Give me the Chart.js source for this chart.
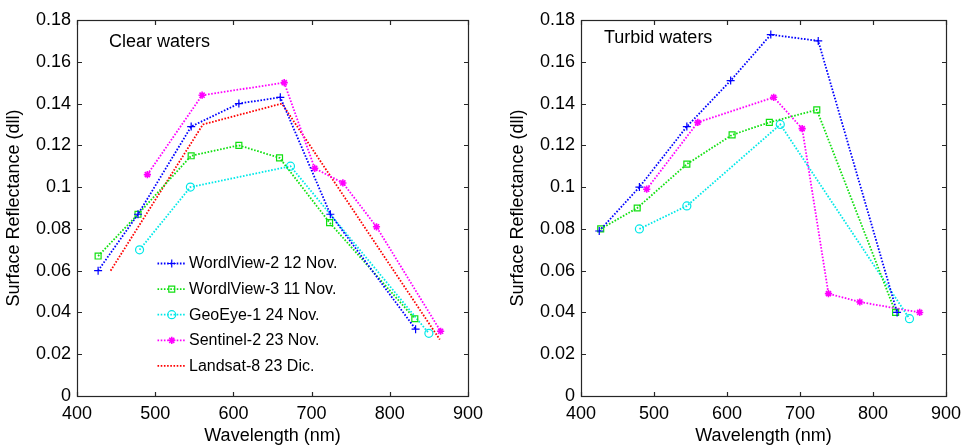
<!DOCTYPE html>
<html>
<head>
<meta charset="utf-8">
<script src="https://cdn.jsdelivr.net/npm/chart.js@4.4.1/dist/chart.umd.min.js"></script>
<style>
  html, body { margin: 0; padding: 0; background: #fff; overflow: hidden; }
  body { width: 968px; height: 445px; position: relative; }
  canvas { position: absolute; top: 0; }
  #cLeft { left: 0; }
  #cRight { left: 509px; }
</style>
</head>
<body>
<canvas id="cLeft" width="490" height="445"></canvas>
<canvas id="cRight" width="459" height="445"></canvas>
<script>
// ---------- tick labels ----------
const xTicks = [400, 500, 600, 700, 800, 900];
const xTickLabels = ['400', '500', '600', '700', '800', '900'];
const yTicks = [0, 0.02, 0.04, 0.06, 0.08, 0.1, 0.12, 0.14, 0.16, 0.18];
const yTickLabels = ['0', '0.02', '0.04', '0.06', '0.08', '0.1', '0.12', '0.14', '0.16', '0.18'];

// ---------- series names ----------
const seriesNames = ['WordlView-2 12 Nov.', 'WordlView-3 11 Nov.', 'GeoEye-1 24 Nov.', 'Sentinel-2 23 Nov.', 'Landsat-8 23 Dic.'];

// ---------- Clear waters ----------
const clearWV2Wl = [427, 478, 546, 607, 660, 724, 833];
const clearWV2R  = [0.060, 0.087, 0.129, 0.140, 0.143, 0.087, 0.032];
const clearWV3Wl = [427, 478, 546, 607, 659, 723, 832];
const clearWV3R  = [0.067, 0.087, 0.115, 0.120, 0.114, 0.083, 0.037];
const clearGEWl  = [480, 545, 673, 850];
const clearGER   = [0.070, 0.100, 0.110, 0.030];
const clearS2Wl  = [490, 560, 665, 704, 740, 783, 865];
const clearS2R   = [0.106, 0.144, 0.150, 0.109, 0.102, 0.081, 0.031];
const clearL8Wl  = [443, 561, 662, 864];
const clearL8R   = [0.060, 0.130, 0.140, 0.027];

// ---------- Turbid waters ----------
const turbWV2Wl = [425, 480, 545, 605, 660, 725, 833];
const turbWV2R  = [0.079, 0.100, 0.129, 0.151, 0.173, 0.170, 0.040];
const turbWV3Wl = [427, 477, 545, 607, 658, 723, 831];
const turbWV3R  = [0.080, 0.090, 0.111, 0.125, 0.131, 0.137, 0.040];
const turbGEWl  = [480, 545, 673, 850];
const turbGER   = [0.080, 0.091, 0.130, 0.037];
const turbS2Wl  = [490, 560, 664, 703, 739, 782, 864];
const turbS2R   = [0.099, 0.131, 0.143, 0.128, 0.049, 0.045, 0.040];

// ---------- styles ----------
const colors = ['#0000ff', '#10e010', '#00e8e8', '#ff00ff', '#ff0000'];
const markerStyles = [
  { pointStyle: 'cross', pointRadius: 4, pointBorderWidth: 1.2, fill: false },
  { pointStyle: 'rect', pointRadius: 4.2, pointBorderWidth: 1.2, fill: false },
  { pointStyle: 'circle', pointRadius: 4, pointBorderWidth: 1.2, fill: false },
  { pointStyle: 'star', pointRadius: 3.6, pointBorderWidth: 1.6, fill: true },
  { pointStyle: false, pointRadius: 0, pointBorderWidth: 0, fill: false }
];

function pts(xs, ys) { return xs.map((x, i) => ({ x: x, y: ys[i] })); }

function makeDataset(idx, xs, ys) {
  const m = markerStyles[idx];
  return {
    label: seriesNames[idx],
    data: pts(xs, ys),
    borderColor: colors[idx],
    backgroundColor: m.fill ? colors[idx] : 'rgba(0,0,0,0)',
    pointBackgroundColor: m.fill ? colors[idx] : 'rgba(0,0,0,0)',
    pointBorderColor: colors[idx],
    borderWidth: 1.8,
    borderDash: [1.6, 1.6],
    pointStyle: m.pointStyle,
    pointRadius: m.pointRadius,
    pointBorderWidth: m.pointBorderWidth,
    tension: 0,
    fill: false,
    _marker: m
  };
}

const FONT = "'Liberation Sans', Arial, Helvetica, sans-serif";
const AXIS_COLOR = '#262626';

// box + inward ticks on all sides, and inner label
function boxPlugin(label, lx, ly) {
  return {
    id: 'boxTicks',
    afterDraw(chart) {
      const { ctx, chartArea } = chart;
      const { left, right, top, bottom } = chartArea;
      const xs = chart.scales.x, ys = chart.scales.y;
      ctx.save();
      ctx.strokeStyle = AXIS_COLOR;
      ctx.lineWidth = 1.2;
      const L = Math.round(left) + 0.5, R = Math.round(right) + 0.5;
      const T = Math.round(top) + 0.5, B = Math.round(bottom) + 0.5;
      ctx.strokeRect(L, T, R - L, B - T);
      const tl = 4.5;
      ctx.beginPath();
      xTicks.forEach(v => {
        const px = Math.round(xs.getPixelForValue(v)) + 0.5;
        ctx.moveTo(px, B); ctx.lineTo(px, B - tl);
        ctx.moveTo(px, T); ctx.lineTo(px, T + tl);
      });
      yTicks.forEach(v => {
        const py = Math.round(ys.getPixelForValue(v)) + 0.5;
        ctx.moveTo(L, py); ctx.lineTo(L + tl, py);
        ctx.moveTo(R, py); ctx.lineTo(R - tl, py);
      });
      ctx.stroke();
      ctx.fillStyle = '#000';
      ctx.font = '18px ' + FONT;
      ctx.textAlign = 'left';
      ctx.textBaseline = 'middle';
      ctx.fillText(label, left + lx, top + ly);
      ctx.restore();
    }
  };
}

function drawMarker(ctx, m, color, x, y) {
  if (!m.pointStyle) return;
  ctx.save();
  ctx.strokeStyle = color;
  ctx.fillStyle = m.fill ? color : 'rgba(0,0,0,0)';
  ctx.lineWidth = m.pointBorderWidth;
  Chart.helpers.drawPoint(ctx, { pointStyle: m.pointStyle, radius: m.pointRadius, rotation: 0, borderWidth: m.pointBorderWidth }, x, y);
  ctx.restore();
}

// MATLAB-like legend inside the axes (no box)
const legendPlugin = {
  id: 'innerLegend',
  afterDraw(chart) {
    const { ctx, chartArea } = chart;
    const x0 = chartArea.left + 80.5;   // sample line start
    const x1 = chartArea.left + 109;    // sample line end
    const tx = chartArea.left + 112;    // text start
    const y0 = chartArea.top + 243.5;
    const dy = 25.6;
    ctx.save();
    chart.data.datasets.forEach((ds, i) => {
      const y = y0 + i * dy;
      ctx.strokeStyle = ds.borderColor;
      ctx.lineWidth = 1.8;
      ctx.setLineDash([1.6, 1.6]);
      ctx.beginPath();
      ctx.moveTo(x0, y); ctx.lineTo(x1, y);
      ctx.stroke();
      ctx.setLineDash([]);
      drawMarker(ctx, ds._marker, ds.borderColor, (x0 + x1) / 2, y);
      ctx.fillStyle = '#000';
      ctx.font = '16px ' + FONT;
      ctx.textAlign = 'left';
      ctx.textBaseline = 'middle';
      ctx.fillText(ds.label, tx, y + 0.5);
    });
    ctx.restore();
  }
};

function makeOptions(yAxisWidth, padRight, yTitlePad) {
  return {
    responsive: false,
    animation: false,
    devicePixelRatio: 1,
    layout: { padding: { left: 0, right: padRight, top: 20, bottom: 0 } },
    plugins: { legend: { display: false }, tooltip: { enabled: false } },
    elements: { line: { borderCapStyle: 'butt' } },
    scales: {
      x: {
        type: 'linear', min: 400, max: 900,
        afterBuildTicks(scale) { scale.ticks = xTicks.map(v => ({ value: v })); },
        afterFit(scale) { scale.height = 49; },
        grid: { display: false, drawTicks: false },
        border: { display: false },
        ticks: {
          color: '#000', padding: 7, maxRotation: 0, autoSkip: false,
          font: { family: FONT, size: 18 },
          callback: (v) => xTickLabels[xTicks.indexOf(v)]
        },
        title: {
          display: true, text: 'Wavelength (nm)', color: '#000',
          font: { family: FONT, size: 18 }, padding: { top: 0, bottom: -1.5 }
        }
      },
      y: {
        type: 'linear', min: 0, max: 0.18,
        afterBuildTicks(scale) { scale.ticks = yTicks.map(v => ({ value: v })); },
        afterFit(scale) { scale.width = yAxisWidth; },
        grid: { display: false, drawTicks: false },
        border: { display: false },
        ticks: {
          color: '#000', padding: 6, autoSkip: false,
          font: { family: FONT, size: 18 },
          callback: (v) => {
            const i = yTicks.findIndex(t => Math.abs(t - v) < 1e-9);
            return i >= 0 ? yTickLabels[i] : '';
          }
        },
        title: {
          display: true, text: 'Surface Reflectance (dll)', color: '#000',
          font: { family: FONT, size: 18 }, padding: { top: yTitlePad, bottom: 0 }
        }
      }
    }
  };
}

new Chart(document.getElementById('cLeft'), {
  type: 'line',
  data: {
    datasets: [
      makeDataset(0, clearWV2Wl, clearWV2R),
      makeDataset(1, clearWV3Wl, clearWV3R),
      makeDataset(2, clearGEWl, clearGER),
      makeDataset(3, clearS2Wl, clearS2R),
      makeDataset(4, clearL8Wl, clearL8R)
    ]
  },
  options: makeOptions(77, 14, 3.3),
  plugins: [boxPlugin('Clear waters', 32, 21.7), legendPlugin]
});

new Chart(document.getElementById('cRight'), {
  type: 'line',
  data: {
    datasets: [
      makeDataset(0, turbWV2Wl, turbWV2R),
      makeDataset(1, turbWV3Wl, turbWV3R),
      makeDataset(2, turbGEWl, turbGER),
      makeDataset(3, turbS2Wl, turbS2R)
    ]
  },
  options: makeOptions(72, 16, -1.4),
  plugins: [boxPlugin('Turbid waters', 23, 18.3)]
});
</script>
</body>
</html>
